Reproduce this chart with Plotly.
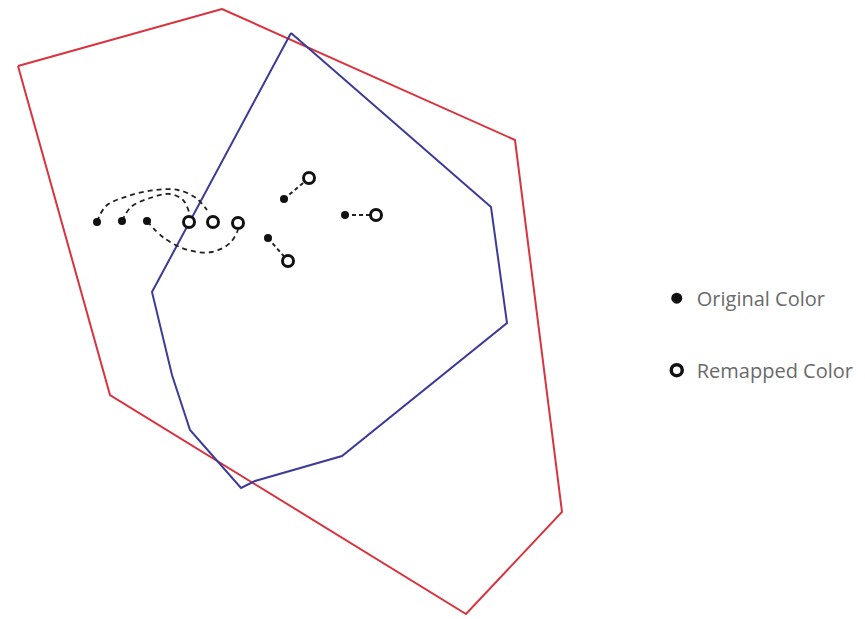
import plotly.graph_objects as go

# Gamut outlines (pixel-like coordinate space of the diagram)
red_gamut_x = [18, 222, 515, 562, 466, 110, 18]
red_gamut_y = [66, 9, 140, 512, 614, 395, 66]
blue_gamut_x = [291, 491, 507, 342, 255, 241, 190, 172, 152, 291]
blue_gamut_y = [33, 207, 323, 456, 481, 488, 430, 375, 292, 33]

# Original colours and their remapped counterparts
orig_x = [97, 122, 147, 284, 268, 345]
orig_y = [222, 221, 221, 199, 238, 215]
remap_x = [213, 189, 238, 309, 288, 376]
remap_y = [222, 222, 223, 178, 261, 215]

# Curved dashed paths for the first three mappings (read points)
curve_a_x = [97, 106, 128, 155, 178, 196, 207]
curve_a_y = [222, 206, 196, 190, 190, 198, 210]
curve_b_x = [122, 131, 150, 170, 183, 189]
curve_b_y = [221, 207, 198, 194, 200, 212]
curve_c_x = [147, 164, 188, 212, 230, 238]
curve_c_y = [221, 238, 250, 252, 243, 230]

legend_labels = ["Original Color", "Remapped Color"]

fig = go.Figure()

fig.add_trace(go.Scatter(x=red_gamut_x, y=red_gamut_y, mode="lines",
                         line=dict(color="#d8343f", width=2), showlegend=False, hoverinfo="skip"))
fig.add_trace(go.Scatter(x=blue_gamut_x, y=blue_gamut_y, mode="lines",
                         line=dict(color="#3c3c98", width=2), showlegend=False, hoverinfo="skip"))

for cx, cy in [(curve_a_x, curve_a_y), (curve_b_x, curve_b_y), (curve_c_x, curve_c_y)]:
    fig.add_trace(go.Scatter(x=cx, y=cy, mode="lines", line_shape="spline",
                             line=dict(color="#222222", width=1.8, dash="5px,4px"),
                             showlegend=False, hoverinfo="skip"))

# straight short connectors for the other three
for i in range(3, 6):
    fig.add_trace(go.Scatter(x=[orig_x[i], remap_x[i]], y=[orig_y[i], remap_y[i]], mode="lines",
                             line=dict(color="#222222", width=2, dash="4px,3px"),
                             showlegend=False, hoverinfo="skip"))

fig.add_trace(go.Scatter(x=orig_x, y=orig_y, mode="markers", showlegend=False, hoverinfo="skip",
                         marker=dict(color="#111111", size=8, line=dict(width=0))))
fig.add_trace(go.Scatter(x=remap_x, y=remap_y, mode="markers", showlegend=False, hoverinfo="skip",
                         marker=dict(color="white", size=11, line=dict(color="#111111", width=3))))

# legend-only entries (slightly larger symbols, as in the key)
fig.add_trace(go.Scatter(x=[None], y=[None], mode="markers", name=legend_labels[0],
                         legendgroup="a",
                         marker=dict(color="#111111", size=11, line=dict(width=0))))
fig.add_trace(go.Scatter(x=[None], y=[None], mode="markers", name=legend_labels[1],
                         legendgroup="b",
                         marker=dict(color="white", size=11, line=dict(color="#111111", width=3.5))))

fig.update_layout(
    width=857, height=611,
    margin=dict(l=0, r=0, t=0, b=0),
    paper_bgcolor="white", plot_bgcolor="white",
    xaxis=dict(range=[8, 865], visible=False, fixedrange=True),
    yaxis=dict(range=[619, 8], visible=False, fixedrange=True),
    showlegend=True,
    legend=dict(x=0.757, y=0.557, xanchor="left", yanchor="top",
                traceorder="grouped", tracegroupgap=43,
                font=dict(family="Open Sans, sans-serif", size=20, color="#6a6a6a"),
                bgcolor="rgba(0,0,0,0)"),
)

fig.write_html("out.html")
